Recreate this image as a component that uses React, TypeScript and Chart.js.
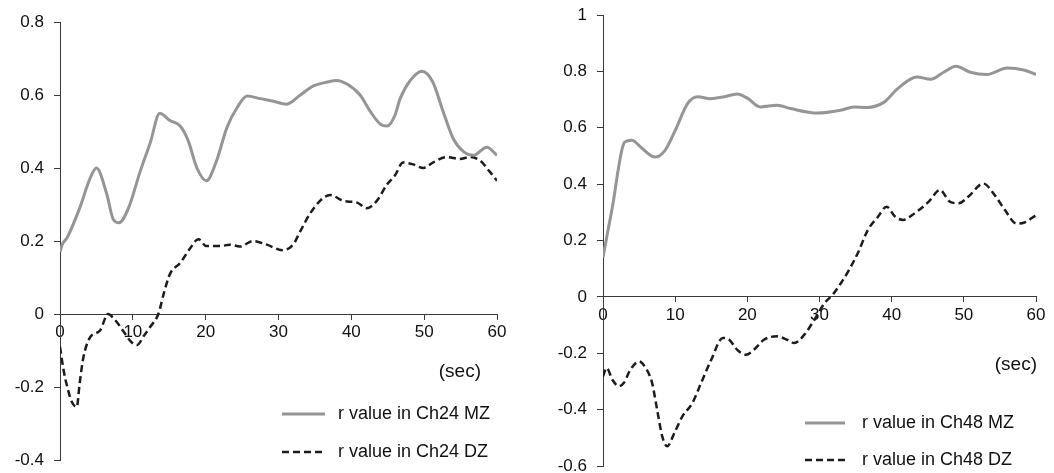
import { useEffect, useRef } from "react";
import { Chart, registerables } from "chart.js";

Chart.register(...registerables);

const FONT = '"Liberation Sans", Arial, Helvetica, sans-serif';

// ---- Left panel (Ch24) ----
const ch24Ticks = [-0.4, -0.2, 0, 0.2, 0.4, 0.6, 0.8];
const ch24MzTime = [0, 0.3, 1, 2.7, 4.1, 5.0, 6.4, 7.3, 8.1, 9.4, 11, 12.4, 13.7, 15.1, 16.5, 17.6, 18.8, 20.1, 21.5, 22.9, 24.3, 25.7, 27.5, 29.3, 31.1, 33, 34.8, 36.6, 38, 39.4, 41.2, 42.6, 44, 44.9, 46, 46.7, 48.1, 49.7, 51.2, 52.6, 54, 55.4, 56.8, 58.6, 60];
const ch24MzValue = [0.17, 0.19, 0.21, 0.29, 0.37, 0.40, 0.33, 0.26, 0.25, 0.29, 0.39, 0.47, 0.55, 0.53, 0.515, 0.475, 0.40, 0.365, 0.42, 0.51, 0.565, 0.597, 0.59, 0.583, 0.575, 0.60, 0.625, 0.635, 0.64, 0.63, 0.60, 0.555, 0.52, 0.515, 0.545, 0.59, 0.64, 0.665, 0.635, 0.555, 0.48, 0.445, 0.435, 0.457, 0.435];
const ch24DzTime = [0, 0.5, 1.0, 1.6, 2.3, 2.7, 3.2, 4.1, 5.5, 6.6, 7.5, 8.7, 9.7, 10.6, 11.5, 12.4, 13.5, 14.3, 15.1, 16.5, 17.8, 19, 20.1, 22, 23.3, 24.7, 26.5, 28.4, 30.5, 32, 33, 34.3, 35.7, 37.1, 38.9, 40.8, 42.1, 43.5, 44.9, 46, 47.1, 48.5, 49.9, 51.2, 53.1, 54.9, 56.3, 57.7, 59, 60];
const ch24DzValue = [-0.09, -0.155, -0.2, -0.24, -0.255, -0.19, -0.12, -0.065, -0.045, 0.0, -0.015, -0.047, -0.075, -0.085, -0.06, -0.035, 0.0, 0.06, 0.11, 0.14, 0.178, 0.205, 0.186, 0.186, 0.19, 0.185, 0.2, 0.19, 0.175, 0.19, 0.227, 0.274, 0.31, 0.326, 0.31, 0.305, 0.29, 0.31, 0.355, 0.38, 0.415, 0.41, 0.40, 0.415, 0.43, 0.425, 0.43, 0.42, 0.39, 0.365];

// ---- Right panel (Ch48) ----
const ch48Ticks = [-0.6, -0.4, -0.2, 0, 0.2, 0.4, 0.6, 0.8, 1];
const ch48MzTime = [0, 0.7, 1.4, 2.1, 2.6, 3.0, 4.0, 5.4, 7.2, 8.6, 10.0, 11.7, 13.1, 14.9, 16.8, 18.6, 20, 21.8, 24.1, 26, 29.7, 32.9, 34.8, 36.6, 38.9, 40.8, 43.5, 45.4, 47.2, 48.9, 50.9, 53.2, 56, 58.3, 60];
const ch48MzValue = [0.14, 0.237, 0.333, 0.45, 0.52, 0.549, 0.556, 0.527, 0.496, 0.52, 0.59, 0.685, 0.71, 0.703, 0.71, 0.72, 0.705, 0.674, 0.68, 0.668, 0.652, 0.662, 0.674, 0.672, 0.69, 0.738, 0.78, 0.772, 0.797, 0.818, 0.797, 0.789, 0.812, 0.805, 0.789];
const ch48DzTime = [0, 0.5, 1.3, 2.2, 2.9, 3.8, 5, 5.9, 6.8, 7.5, 8.2, 8.9, 9.9, 11, 12.4, 13.6, 15, 16.6, 17.5, 18.6, 19.8, 20.9, 22.3, 24.1, 25.5, 26.5, 27.9, 29.3, 30.7, 31.8, 33, 34.1, 35.3, 36.7, 38.1, 39.3, 40.5, 41.6, 43.2, 45.1, 46.7, 48.1, 49.3, 50.6, 52.7, 54.3, 55.7, 57.3, 58.4, 60];
const ch48DzValue = [-0.282, -0.252, -0.294, -0.317, -0.305, -0.258, -0.229, -0.252, -0.305, -0.4, -0.494, -0.53, -0.482, -0.424, -0.376, -0.305, -0.223, -0.146, -0.152, -0.188, -0.205, -0.188, -0.152, -0.14, -0.152, -0.164, -0.134, -0.081, -0.022, 0.007, 0.05, 0.096, 0.155, 0.237, 0.284, 0.32, 0.284, 0.273, 0.297, 0.337, 0.379, 0.337, 0.332, 0.355, 0.402, 0.36, 0.308, 0.26, 0.264, 0.29];

const xTickStep = 10;
const xMax = 60;
const xUnitLabel = "(sec)";

const MZ_COLOR = "#959595";
const DZ_COLOR = "#1c1c1c";
const DZ_DASH = [7, 4];
const AXIS_COLOR = "#3a3a3a";

const CANVAS_TOP = -30;
const CANVAS_H = 533;
const CANVAS_W = 527;

type PanelCfg = {
  left: number;
  yTicks: number[];
  mzT: number[];
  mzV: number[];
  dzT: number[];
  dzV: number[];
  mzLabel: string;
  dzLabel: string;
  yAxisWidth: number;
  padding: { left: number; right: number; top: number; bottom: number };
  legend: { lineX0: number; lineX1: number; textX: number; row1: number; row2: number };
  sec: { right: number; y: number };
};

const fmt = (v: number) => {
  if (Math.abs(v) < 1e-9) return "0";
  return String(Math.round(v * 10) / 10);
};

const overlayPlugin = {
  id: "overlay",
  afterDraw(chart: any, _args: any, opts: any) {
    const { ctx, chartArea } = chart;
    const lg = opts.legend;
    ctx.save();
    ctx.strokeStyle = MZ_COLOR;
    ctx.lineWidth = 3;
    ctx.setLineDash([]);
    ctx.beginPath();
    ctx.moveTo(chartArea.right + lg.lineX0, chartArea.bottom + lg.row1);
    ctx.lineTo(chartArea.right + lg.lineX1, chartArea.bottom + lg.row1);
    ctx.stroke();
    ctx.strokeStyle = DZ_COLOR;
    ctx.lineWidth = 2.5;
    ctx.setLineDash(DZ_DASH);
    ctx.beginPath();
    ctx.moveTo(chartArea.right + lg.lineX0, chartArea.bottom + lg.row2);
    ctx.lineTo(chartArea.right + lg.lineX1, chartArea.bottom + lg.row2);
    ctx.stroke();
    ctx.setLineDash([]);
    ctx.fillStyle = "#111";
    ctx.font = `18px ${FONT}`;
    ctx.textAlign = "left";
    ctx.textBaseline = "middle";
    ctx.fillText(opts.mzLabel, chartArea.right + lg.textX, chartArea.bottom + lg.row1);
    ctx.fillText(opts.dzLabel, chartArea.right + lg.textX, chartArea.bottom + lg.row2);
    ctx.font = `19px ${FONT}`;
    ctx.textAlign = "right";
    ctx.fillText(opts.secLabel, chartArea.right + opts.sec.right, chartArea.bottom + opts.sec.y);
    ctx.restore();
  },
};

function Panel({ cfg }: { cfg: PanelCfg }) {
  const ref = useRef<HTMLCanvasElement>(null);
  useEffect(() => {
    const canvas = ref.current;
    if (!canvas) return;
    const yMin = cfg.yTicks[0];
    const yMax = cfg.yTicks[cfg.yTicks.length - 1];
    const chart = new Chart(canvas, {
      type: "line",
      data: {
        datasets: [
          {
            label: cfg.mzLabel,
            data: cfg.mzT.map((t, i) => ({ x: t, y: cfg.mzV[i] })),
            borderColor: MZ_COLOR,
            borderWidth: 3,
            pointRadius: 0,
            cubicInterpolationMode: "monotone",
            fill: false,
          },
          {
            label: cfg.dzLabel,
            data: cfg.dzT.map((t, i) => ({ x: t, y: cfg.dzV[i] })),
            borderColor: DZ_COLOR,
            borderWidth: 2.5,
            borderDash: DZ_DASH,
            pointRadius: 0,
            cubicInterpolationMode: "monotone",
            fill: false,
          },
        ],
      },
      options: {
        responsive: false,
        animation: false,
        events: [],
        layout: { padding: cfg.padding },
        plugins: {
          legend: { display: false },
          tooltip: { enabled: false },
          overlay: {
            legend: cfg.legend,
            sec: cfg.sec,
            mzLabel: cfg.mzLabel,
            dzLabel: cfg.dzLabel,
            secLabel: xUnitLabel,
          },
        } as any,
        scales: {
          x: {
            type: "linear",
            min: 0,
            max: xMax,
            position: { y: 0 } as any,
            afterFit: (s: any) => {
              s.height = 0;
            },
            ticks: {
              stepSize: xTickStep,
              color: "#111",
              font: { family: FONT, size: 17 },
              padding: 3,
              maxRotation: 0,
              autoSkip: false,
            },
            grid: {
              drawOnChartArea: false,
              drawTicks: true,
              tickLength: 5,
              color: AXIS_COLOR,
            },
            border: { display: true, color: AXIS_COLOR, width: 1 },
          },
          y: {
            type: "linear",
            min: yMin,
            max: yMax,
            position: "left",
            afterFit: (s: any) => {
              s.width = cfg.yAxisWidth;
            },
            afterBuildTicks: (s: any) => {
              s.ticks = cfg.yTicks.map((v) => ({ value: v }));
            },
            ticks: {
              color: "#111",
              font: { family: FONT, size: 17 },
              padding: 10,
              callback: (v: any) => fmt(Number(v)),
            },
            grid: {
              drawOnChartArea: false,
              drawTicks: true,
              tickLength: 6,
              color: AXIS_COLOR,
            },
            border: { display: true, color: AXIS_COLOR, width: 1 },
          },
        },
      },
      plugins: [overlayPlugin],
    });
    return () => chart.destroy();
  }, [cfg]);
  return (
    <canvas
      ref={ref}
      width={CANVAS_W}
      height={CANVAS_H}
      style={{ position: "absolute", left: cfg.left, top: CANVAS_TOP, width: CANVAS_W, height: CANVAS_H }}
    />
  );
}

const leftCfg: PanelCfg = {
  left: 0,
  yTicks: ch24Ticks,
  mzT: ch24MzTime,
  mzV: ch24MzValue,
  dzT: ch24DzTime,
  dzV: ch24DzValue,
  mzLabel: "r value in Ch24 MZ",
  dzLabel: "r value in Ch24 DZ",
  yAxisWidth: 60,
  padding: { left: 0, right: 30, top: 52, bottom: 43 },
  legend: { lineX0: -215, lineX1: -172, textX: -159, row1: -46, row2: -8 },
  sec: { right: -16, y: -88 },
};

const rightCfg: PanelCfg = {
  left: 527,
  yTicks: ch48Ticks,
  mzT: ch48MzTime,
  mzV: ch48MzValue,
  dzT: ch48DzTime,
  dzV: ch48DzValue,
  mzLabel: "r value in Ch48 MZ",
  dzLabel: "r value in Ch48 DZ",
  yAxisWidth: 76,
  padding: { left: 0, right: 18, top: 45, bottom: 37 },
  legend: { lineX0: -231, lineX1: -191, textX: -174, row1: -43, row2: -6 },
  sec: { right: 1, y: -101 },
};

export default function App() {
  return (
    <div
      style={{
        position: "fixed",
        left: 0,
        top: 0,
        width: 1054,
        height: 473,
        overflow: "hidden",
        background: "#fff",
      }}
    >
      <Panel cfg={leftCfg} />
      <Panel cfg={rightCfg} />
    </div>
  );
}
